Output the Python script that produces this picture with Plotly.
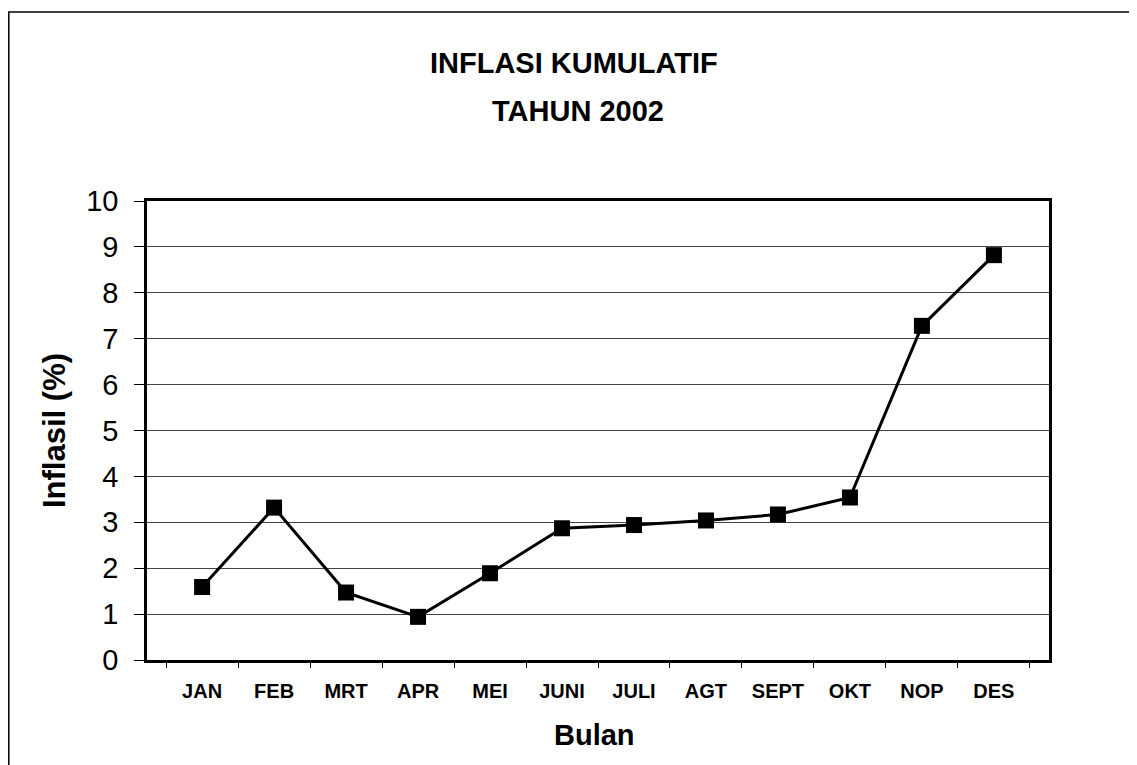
import plotly.graph_objects as go

months = ["JAN", "FEB", "MRT", "APR", "MEI", "JUNI", "JULI", "AGT", "SEPT", "OKT", "NOP", "DES"]
inflasi = [1.59, 3.32, 1.47, 0.94, 1.89, 2.87, 2.94, 3.04, 3.17, 3.54, 7.28, 8.82]
y_ticks = list(range(0, 11))

OFF = 8  # page body margin
W, H = 1137 - OFF, 765 - OFF
L, R, T, B = 147 - OFF, 1049 - OFF, 201 - OFF, 660 - OFF
pw, ph = R - L, B - T

def px(x):
    return (x - OFF - L) / pw

def py(y):
    return (B - (y - OFF)) / ph

FONT = "Liberation Sans, Arial, sans-serif"

fig = go.Figure()
fig.add_trace(go.Scatter(
    x=months, y=inflasi, mode="lines+markers",
    line=dict(color="black", width=3),
    marker=dict(symbol="square", size=16, color="black"),
    cliponaxis=False, showlegend=False,
))

fig.update_layout(
    width=W, height=H,
    margin=dict(l=L, r=W - R, t=T, b=H - B),
    paper_bgcolor="white", plot_bgcolor="white",
    font=dict(family=FONT, color="black"),
    xaxis=dict(
        type="category", showgrid=False, showline=True, linecolor="black", linewidth=2.5,
        mirror=True, ticks="outside", tickson="boundaries", ticklen=5, tickcolor="black",
        tickfont=dict(size=20, family=FONT, weight="bold"), ticklabelstandoff=11,
    ),
    yaxis=dict(
        range=[0, 10], tickvals=y_ticks, showgrid=True, gridcolor="#444444", gridwidth=1,
        showline=True, linecolor="black", linewidth=2.5, mirror=True,
        ticks="outside", ticklen=10, tickcolor="black",
        tickfont=dict(size=29, family=FONT), ticklabelstandoff=10, zeroline=False,
    ),
    annotations=[
        dict(text="<b>INFLASI KUMULATIF</b>", x=px(574), y=py(62.5), xref="paper", yref="paper",
             showarrow=False, xanchor="center", yanchor="middle", font=dict(size=29, family=FONT)),
        dict(text="<b>TAHUN 2002</b>", x=px(578), y=py(111), xref="paper", yref="paper",
             showarrow=False, xanchor="center", yanchor="middle", font=dict(size=29, family=FONT)),
        dict(text="<b>Inflasil (%)</b>", x=px(54), y=py(431), xref="paper", yref="paper",
             showarrow=False, xanchor="center", yanchor="middle", textangle=-90,
             font=dict(size=31, family=FONT)),
        dict(text="<b>Bulan</b>", x=px(594), y=py(735), xref="paper", yref="paper",
             showarrow=False, xanchor="center", yanchor="middle", font=dict(size=29, family=FONT)),
    ],
    shapes=[
        dict(type="rect", xref="paper", yref="paper", x0=px(8.8), x1=px(1145), y0=py(775), y1=py(12),
             line=dict(color="black", width=1.5), layer="below"),
    ],
)

fig.write_html("out.html")
